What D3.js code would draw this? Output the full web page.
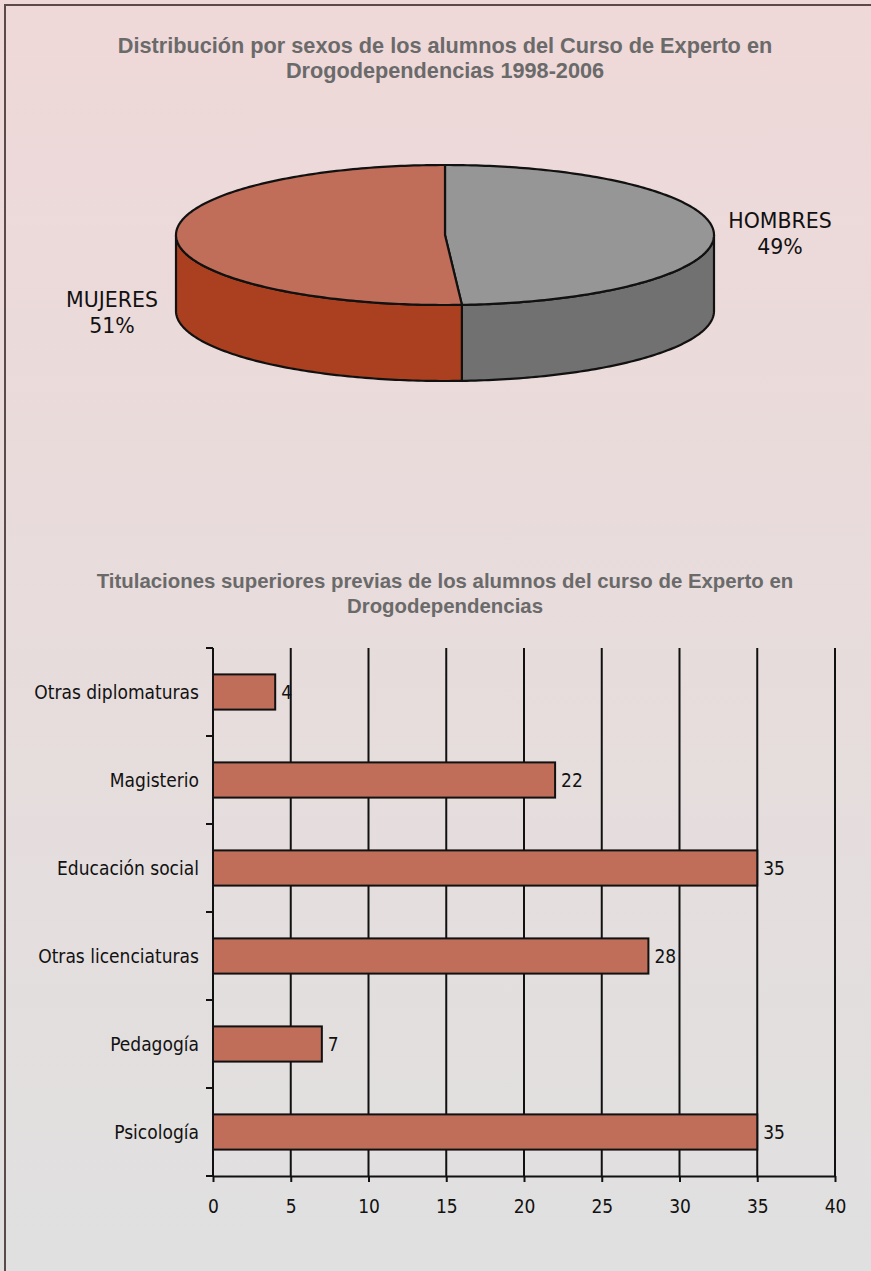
<!DOCTYPE html>
<html>
<head>
  <meta charset="utf-8">
  <style type="text/css">
    body { margin: 0; }
    .title { font-family: "Liberation Sans", Arial, sans-serif; font-weight: bold; fill: #6a6a6a; }
    .pielabel { font-family: "DejaVu Sans", Verdana, sans-serif; font-size: 20.5px; fill: #111; }
    .cond { font-family: "DejaVu Sans Condensed", "DejaVu Sans", sans-serif; font-stretch: condensed; font-size: 19px; fill: #111; }
  </style>
</head>
<body>
<svg></svg>
<script src="https://d3js.org/d3.v7.min.js"></script>
<script>
    var width = 871;
    var height = 1271;

    /* pie data */
    var sexLabels = ['HOMBRES', 'MUJERES'];
    var sexValues = [49, 51];
    var sexTop = ['#969696', '#c06e5a'];
    var sexSide = ['#717171', '#aa401f'];

    /* bar data (top to bottom) */
    var degrees = ['Otras diplomaturas', 'Magisterio', 'Educación social', 'Otras licenciaturas', 'Pedagogía', 'Psicología'];
    var degreeCounts = [4, 22, 35, 28, 7, 35];
    var xTicks = [0, 5, 10, 15, 20, 25, 30, 35, 40];

    var svg = d3.select('svg')
      .attr('width', width)
      .attr('height', height);

    var grad = svg.append('defs').append('linearGradient')
      .attr('id', 'bg').attr('x1', 0).attr('y1', 0).attr('x2', 0).attr('y2', 1);
    grad.append('stop').attr('offset', '0%').attr('stop-color', '#efd8d8');
    grad.append('stop').attr('offset', '100%').attr('stop-color', '#e0e0e0');

    svg.append('rect').attr('width', width).attr('height', height).attr('fill', 'url(#bg)');
    svg.append('path')
      .attr('d', 'M5,' + height + 'V5H' + width)
      .attr('fill', 'none').attr('stroke', '#5b4a4a').attr('stroke-width', 2);

    function title(lines, y0, size) {
      var t = svg.append('text').attr('class', 'title').attr('text-anchor', 'middle')
        .attr('font-size', size);
      lines.forEach(function(l, i) {
        t.append('tspan').attr('x', 445).attr('y', y0 + i * 25).text(l);
      });
    }
    title(['Distribución por sexos de los alumnos del Curso de Experto en', 'Drogodependencias 1998-2006'], 53, 21.7);
    title(['Titulaciones superiores previas de los alumnos del curso de Experto en', 'Drogodependencias'], 588, 20.4);

    /* ---- 3D pie ---- */
    var cx = 445, cy = 235, rx = 269, ry = 70, depth = 76;
    var pie = d3.pie().sort(null)(sexValues);

    function pt(a, dy) {
      return [cx + rx * Math.sin(a), cy - ry * Math.cos(a) + (dy || 0)];
    }
    function arcPoints(a0, a1, dy) {
      var n = Math.max(2, Math.ceil(Math.abs(a1 - a0) * 60));
      return d3.range(n + 1).map(function(i) { return pt(a0 + (a1 - a0) * i / n, dy); });
    }
    var line = d3.line();
    var g = svg.append('g');

    // side walls (front half only: PI/2 .. 3PI/2)
    pie.forEach(function(d, i) {
      var s = Math.max(d.startAngle, Math.PI / 2), e = Math.min(d.endAngle, 3 * Math.PI / 2);
      if (e <= s) return;
      var pts = arcPoints(s, e, 0).concat(arcPoints(e, s, depth));
      g.append('path').attr('d', line(pts) + 'Z')
        .attr('fill', sexSide[i]).attr('stroke', '#111').attr('stroke-width', 2.2)
        .attr('stroke-linejoin', 'round');
    });
    // top faces
    pie.forEach(function(d, i) {
      var pts = [[cx, cy]].concat(arcPoints(d.startAngle, d.endAngle, 0));
      g.append('path').attr('d', line(pts) + 'Z')
        .attr('fill', sexTop[i]).attr('stroke', '#111').attr('stroke-width', 2.2)
        .attr('stroke-linejoin', 'round');
    });
    // labels
    pie.forEach(function(d, i) {
      var mid = (d.startAngle + d.endAngle) / 2;
      var right = Math.sin(mid) > 0;
      var x = right ? cx + rx + 66 : cx - rx - 64;
      var y = right ? cy - 7 : cy + depth - 4;
      var t = svg.append('text').attr('class', 'pielabel').attr('text-anchor', 'middle');
      t.append('tspan').attr('x', x).attr('y', y).text(sexLabels[i]);
      t.append('tspan').attr('x', x).attr('y', y + 26).text(Math.round(sexValues[i] / d3.sum(sexValues) * 100) + '%');
    });

    /* ---- bar chart ---- */
    var x = d3.scaleLinear().domain([0, 40]).range([213, 835]);
    var y = d3.scaleBand().domain(degrees).range([648, 1176]).paddingInner(0.6).paddingOuter(0.3);

    var bg = svg.append('g');
    // gridlines
    bg.selectAll('line.grid').data(xTicks.slice(1)).enter().append('line')
      .attr('x1', function(d) { return x(d); }).attr('x2', function(d) { return x(d); })
      .attr('y1', 648).attr('y2', 1176)
      .attr('stroke', '#111').attr('stroke-width', 2);

    // bars
    bg.selectAll('rect.bar').data(degrees).enter().append('rect')
      .attr('x', x(0))
      .attr('y', function(d) { return y(d); })
      .attr('width', function(d, i) { return x(degreeCounts[i]) - x(0); })
      .attr('height', y.bandwidth())
      .attr('fill', '#c06e5a').attr('stroke', '#111').attr('stroke-width', 2);

    // value labels
    bg.selectAll('text.val').data(degrees).enter().append('text')
      .attr('class', 'cond')
      .attr('x', function(d, i) { return x(degreeCounts[i]) + 6; })
      .attr('y', function(d) { return y(d) + y.bandwidth() / 2 + 7; })
      .text(function(d, i) { return degreeCounts[i]; });

    // y axis
    var yBounds = y.domain().map(function(d) { return y(d) - y.step() * y.paddingInner() / 2; }).concat([1176]);
    yBounds[0] = 648;
    bg.append('line').attr('x1', x(0)).attr('x2', x(0)).attr('y1', 648).attr('y2', 1176)
      .attr('stroke', '#111').attr('stroke-width', 2);
    bg.selectAll('line.ytick').data(yBounds).enter().append('line')
      .attr('x1', x(0) - 7).attr('x2', x(0)).attr('y1', function(d) { return d; }).attr('y2', function(d) { return d; })
      .attr('stroke', '#111').attr('stroke-width', 2);
    bg.selectAll('text.cat').data(degrees).enter().append('text')
      .attr('class', 'cond').attr('text-anchor', 'end')
      .attr('x', x(0) - 14)
      .attr('y', function(d) { return y(d) + y.bandwidth() / 2 + 7; })
      .text(function(d) { return d; });

    // x axis
    var xAxis = bg.append('g').attr('transform', 'translate(0,1176)')
      .call(d3.axisBottom(x).tickValues(xTicks).tickSizeInner(6).tickSizeOuter(0).tickPadding(18));
    xAxis.select('.domain').attr('stroke', '#111').attr('stroke-width', 2);
    xAxis.selectAll('.tick line').attr('stroke', '#111').attr('stroke-width', 2);
    xAxis.selectAll('.tick text').attr('class', 'cond').attr('font-size', null).attr('font-family', null).attr('fill', '#111');
</script>
</body>
</html>
